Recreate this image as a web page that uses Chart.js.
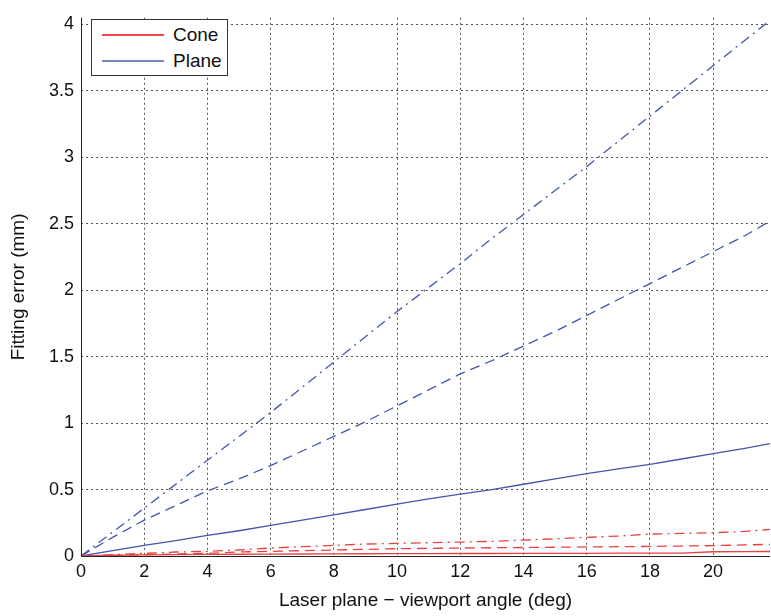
<!DOCTYPE html>
<html>
<head>
<meta charset="utf-8">
<script src="https://cdn.jsdelivr.net/npm/chart.js@4/dist/chart.umd.min.js"></script>
<style>
  html, body { margin: 0; padding: 0; background: #fff; }
  #wrap { position: relative; width: 771px; height: 616px; }
  #legend {
    position: absolute; left: 91px; top: 19px; width: 137px; height: 57px;
    border: 1px solid #333; background: #fff; box-sizing: border-box;
    font-family: "Liberation Sans", Arial, sans-serif; font-size: 19px; color: #111;
  }
  .row { position: absolute; left: 10px; display: flex; align-items: center; height: 24px; }
  .swatch { width: 62px; height: 1.5px; margin-right: 9px; }
</style>
</head>
<body>
<div id="wrap">
  <canvas id="chart" width="771" height="616"></canvas>
  <div id="legend">
    <div class="row" style="top:3px"><div class="swatch" style="background:#ee4a48"></div>Cone</div>
    <div class="row" style="top:29px"><div class="swatch" style="background:#7787c6"></div>Plane</div>
  </div>
</div>
<script>
// viewing angle (deg) samples
const angles = [0, 1, 2, 3, 4, 5, 6, 7, 8, 9, 10, 11, 12, 13, 14, 15, 16, 17, 18, 19, 20, 21, 21.8];

const planeSolid = [0, 0.04, 0.08, 0.115, 0.155, 0.19, 0.23, 0.27, 0.31, 0.35, 0.39, 0.43, 0.465, 0.5, 0.54, 0.58, 0.62, 0.655, 0.69, 0.73, 0.77, 0.81, 0.845];
const planeDashed = [0, 0.14, 0.27, 0.38, 0.49, 0.58, 0.68, 0.79, 0.9, 1.01, 1.13, 1.25, 1.37, 1.47, 1.58, 1.69, 1.81, 1.93, 2.05, 2.17, 2.29, 2.41, 2.52];
const planeDashDot = [0, 0.18, 0.36, 0.54, 0.72, 0.9, 1.08, 1.27, 1.46, 1.65, 1.84, 2.02, 2.2, 2.39, 2.57, 2.75, 2.93, 3.12, 3.31, 3.5, 3.69, 3.88, 4.03];

const coneSolid = [0, 0.005, 0.008, 0.01, 0.012, 0.013, 0.014, 0.015, 0.016, 0.017, 0.018, 0.018, 0.019, 0.019, 0.02, 0.02, 0.02, 0.021, 0.021, 0.022, 0.032, 0.033, 0.034];
const coneDashed = [0, 0.005, 0.01, 0.015, 0.02, 0.03, 0.035, 0.04, 0.045, 0.05, 0.055, 0.057, 0.06, 0.062, 0.064, 0.066, 0.068, 0.07, 0.072, 0.075, 0.078, 0.083, 0.088];
const coneDashDot = [0, 0.01, 0.02, 0.03, 0.035, 0.045, 0.06, 0.07, 0.08, 0.09, 0.095, 0.1, 0.105, 0.11, 0.12, 0.13, 0.14, 0.15, 0.165, 0.17, 0.175, 0.185, 0.2];

const xTicks = [0, 2, 4, 6, 8, 10, 12, 14, 16, 18, 20];
const yTicks = [0, 0.5, 1, 1.5, 2, 2.5, 3, 3.5, 4];

const red = "#e8413f";
const blue = "#4455b0";
const font = "'Liberation Sans', Arial, sans-serif";

function series(values, color, dash) {
  return {
    data: values.map((v, i) => ({ x: angles[i], y: v })),
    borderColor: color,
    borderWidth: 1.3,
    borderDash: dash,
    pointRadius: 0,
    tension: 0,
    fill: false,
  };
}

// solid axis lines on left and bottom (grid lines themselves are dotted)
const axisLines = {
  id: "axisLines",
  afterDatasetsDraw(chart) {
    const { ctx, chartArea: a } = chart;
    ctx.save();
    ctx.setLineDash([]);
    ctx.strokeStyle = "#222";
    ctx.lineWidth = 1;
    ctx.beginPath();
    ctx.moveTo(a.left + 0.5, a.top);
    ctx.lineTo(a.left + 0.5, a.bottom + 0.5);
    ctx.lineTo(a.right, a.bottom + 0.5);
    ctx.stroke();
    ctx.restore();
  },
};

const grid = { color: "#555", lineWidth: 1, drawTicks: false };
const border = { display: false, dash: [2, 3] };

new Chart(document.getElementById("chart"), {
  type: "line",
  data: {
    datasets: [
      series(coneSolid, red, []),
      series(coneDashed, red, [10, 6]),
      series(coneDashDot, red, [10, 5, 2, 5]),
      series(planeSolid, blue, []),
      series(planeDashed, blue, [10, 6]),
      series(planeDashDot, blue, [10, 5, 2, 5]),
    ],
  },
  options: {
    responsive: false,
    animation: false,
    layout: { padding: { top: 8, right: 1, left: 0, bottom: 0 } },
    plugins: { legend: { display: false }, tooltip: { enabled: false } },
    scales: {
      x: {
        type: "linear",
        min: 0,
        max: 21.8,
        afterBuildTicks: (s) => { s.ticks = xTicks.map((v) => ({ value: v })); },
        afterFit: (s) => { s.height = 60; },
        grid,
        border,
        ticks: { color: "#111", font: { family: font, size: 18 }, padding: 5, callback: (v) => String(v) },
        title: { display: true, text: "Laser plane \u2212 viewport angle (deg)", color: "#111", font: { family: font, size: 19 }, padding: { top: 1 } },
      },
      y: {
        min: 0,
        max: 4.05,
        afterBuildTicks: (s) => { s.ticks = yTicks.map((v) => ({ value: v })); },
        afterFit: (s) => { s.width = 81; },
        grid,
        border,
        ticks: { color: "#111", font: { family: font, size: 18 }, padding: 7, callback: (v) => String(v) },
        title: { display: true, text: "Fitting error (mm)", color: "#111", font: { family: font, size: 19 }, padding: { top: 7, bottom: 2 } },
      },
    },
  },
  plugins: [axisLines],
});
</script>
</body>
</html>
